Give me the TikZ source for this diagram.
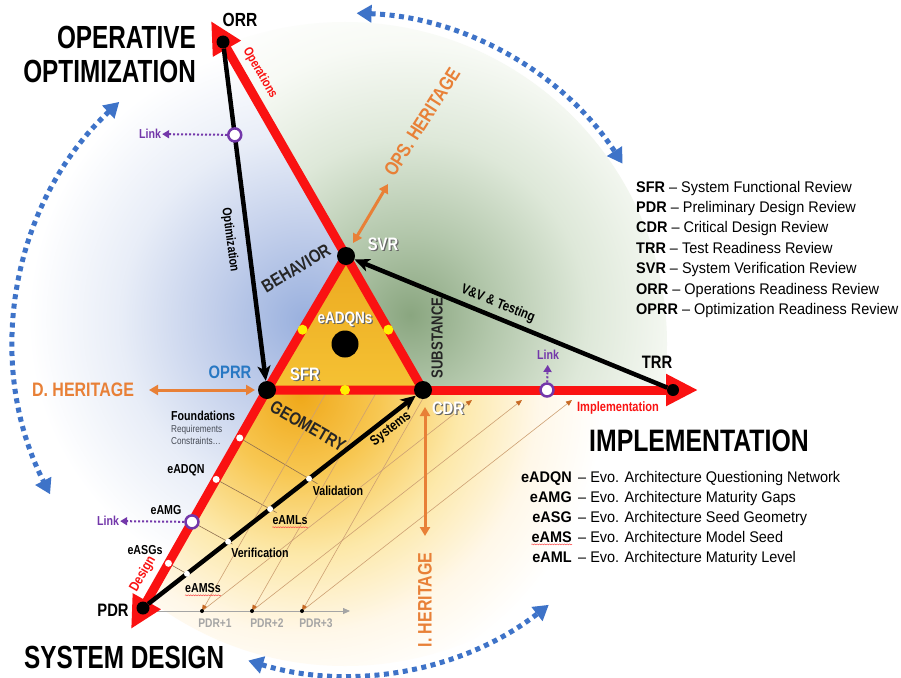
\documentclass[tikz,border=0pt]{standalone}
\usepackage{fontspec}
\setmainfont{Liberation Sans}
\newfontfamily\fT{Liberation Sans}[FakeStretch=0.76]
\newfontfamily\fI{Liberation Sans}[FakeStretch=0.80]
\newfontfamily\fA{Liberation Sans}[FakeStretch=0.82]
\newfontfamily\fL{Liberation Sans}[FakeStretch=0.94]
\usetikzlibrary{arrows.meta,calc,decorations.pathmorphing}
\newcommand\fs[1]{\fontsize{#1}{#1}\selectfont}
\newcommand\shd[1]{\rlap{\kern1.3pt\raisebox{-1.3pt}{\textcolor{black!60}{#1}}}#1}
\definecolor{rd}{RGB}{250,18,18}
\definecolor{arcb}{RGB}{62,115,200}
\definecolor{oprrc}{RGB}{40,120,195}
\definecolor{org}{RGB}{232,128,55}
\definecolor{pur}{RGB}{115,55,170}
\definecolor{tanl}{RGB}{205,160,115}
\definecolor{fanh}{RGB}{200,105,35}
\definecolor{pdrg}{RGB}{165,165,165}
\definecolor{yel}{RGB}{255,240,0}
\definecolor{triA}{RGB}{236,170,32}
\definecolor{triB}{RGB}{245,194,52}
\definecolor{reqc}{RGB}{70,75,85}
\pgfdeclareradialshading{bluesh}{\pgfpoint{0bp}{0bp}}{rgb(0bp)=(0.60,0.69,0.87); rgb(7bp)=(0.76,0.81,0.92); rgb(14bp)=(0.91,0.93,0.97); rgb(21bp)=(1,1,1); rgb(50bp)=(1,1,1)}
\pgfdeclareradialshading{greensh}{\pgfpoint{0bp}{0bp}}{rgb(0bp)=(0.54,0.65,0.50); rgb(6bp)=(0.70,0.78,0.67); rgb(13bp)=(0.87,0.91,0.85); rgb(20bp)=(0.97,0.98,0.96); rgb(25bp)=(1,1,1); rgb(50bp)=(1,1,1)}
\pgfdeclareradialshading{orangesh}{\pgfpoint{0bp}{0bp}}{rgb(0bp)=(0.94,0.66,0.10); rgb(6bp)=(0.97,0.78,0.32); rgb(12bp)=(0.99,0.91,0.66); rgb(18bp)=(1,0.97,0.91); rgb(23bp)=(1,1,1); rgb(50bp)=(1,1,1)}
\begin{document}
\begin{tikzpicture}[x=1pt,y=-1pt,
  redl/.style={draw=rd,line width=9pt},
  redtip/.style={-{Triangle[length=32pt,width=30pt]}},
  blk/.style={draw=black,line width=4.5pt,-{Stealth[length=15pt,width=13pt,inset=4pt]}},
  dot/.style={circle,fill=black,inner sep=0pt},
  wdot/.style={circle,fill=white,inner sep=0pt,minimum size=7pt},
  ydot/.style={circle,fill=yel,inner sep=0pt,minimum size=10pt},
  lnk/.style={circle,draw=pur,line width=2.5pt,fill=white,inner sep=0pt,minimum size=13pt},
  lnkarrow/.style={draw=pur,line width=2pt,dash pattern=on 2pt off 2pt,-{Triangle[length=7pt,width=8pt]}},
  herarrow/.style={draw=org,line width=3pt,{Triangle[length=9pt,width=10pt]}-{Triangle[length=9pt,width=10pt]}},
  arcarrow/.style={draw=arcb,line width=5pt,dash pattern=on 5pt off 4.5pt,{Triangle[length=15pt,width=17pt]}-{Triangle[length=15pt,width=17pt]}},
  fan/.style={draw=tanl,line width=0.6pt},
  fanarr/.style={fan,-{Triangle[length=6pt,width=5pt,color=fanh]}},
  lb/.style={inner sep=0pt,font=\fA\bfseries},
  title/.style={inner sep=0pt,font=\fT\bfseries\fs{32}},
  leg/.style={inner sep=0pt,font=\fL\fs{15.4}},
  squig/.style={draw=rd!75,line width=0.5pt,decorate,decoration={snake,amplitude=0.5pt,segment length=2.5pt}}
]
\useasboundingbox (0,0) rectangle (901,677);
\fill[white] (0,0) rectangle (901,677);

% key points
\coordinate (C) at (345,344);
\coordinate (pORR) at (223,42);
\coordinate (ORRt) at (211,21);
\coordinate (pSVR) at (346,256);
\coordinate (pOPRR) at (267,390);
\coordinate (pCDR) at (423,390);
\coordinate (pTRR) at (673,390);
\coordinate (TRRt) at (698,390);
\coordinate (pPDR) at (143,608);
\coordinate (PDRt) at (131,629);

% background shadings
\begin{scope}
  \clip (C) circle (322pt);
  \begin{scope}
    \clip (0,0) -- (200,0) -- (pSVR) -- (pOPRR) -- (pPDR) -- (104,677) -- (0,677) -- cycle;
    \shade[shading=bluesh] (305,320) circle (330pt);
  \end{scope}
  \begin{scope}
    \clip (200,0) -- (pSVR) -- (pCDR) -- (901,390) -- (901,0) -- cycle;
    \shade[shading=greensh] (410,315) circle (340pt);
  \end{scope}
  \begin{scope}
    \clip (pOPRR) -- (901,390) -- (901,677) -- (104,677) -- (pPDR) -- cycle;
    \shade[shading=orangesh] (300,395) circle (330pt);
  \end{scope}
\end{scope}

% dotted blue arcs
\draw[arcarrow] ($(C)+(88:331pt)$) arc[start angle=88,end angle=33,radius=331pt];
\draw[arcarrow] ($(C)+(133:331pt)$) arc[start angle=133,end angle=207,radius=331pt];
\draw[arcarrow] ($(C)+(253:331pt)$) arc[start angle=253,end angle=308,radius=331pt];

% grid points on the Design line and on the Systems line
\coordinate (r1) at ($(pOPRR)!0.22!(pPDR)$);
\coordinate (r2) at ($(pOPRR)!0.41!(pPDR)$);
\coordinate (r3) at ($(pOPRR)!0.605!(pPDR)$);
\coordinate (r4) at ($(pOPRR)!0.795!(pPDR)$);
\coordinate (b1) at ($(pPDR)!0.593!(pCDR)$);
\coordinate (b2) at ($(pPDR)!0.454!(pCDR)$);
\coordinate (b3) at ($(pPDR)!0.304!(pCDR)$);
\coordinate (b4) at ($(pPDR)!0.157!(pCDR)$);
\foreach \i in {1,2,3,4}{
  \draw[fan,draw=black!30!tanl] ($(r\i)!-0.05!(b\i)$) -- ($(r\i)!1.12!(b\i)$);
}

% fan of PDR+n lines
\coordinate (P1) at (202,611);
\coordinate (P2) at (252,611);
\coordinate (P3) at (302,611);
\coordinate (S1) at (326.6,392);
\coordinate (S2) at (376.6,392);
\coordinate (S3) at (426.6,392);
\coordinate (H1) at (472,400);
\coordinate (H2) at (522,400);
\coordinate (H3) at (572,400);
\foreach \i in {1,2,3}{
  \draw[fanarr] (S\i) -- (P\i);
  \draw[fanarr] (P\i) -- (H\i);
}
\coordinate (ax0) at (150,611);
\coordinate (ax1) at (350,611);
\draw[draw=pdrg,line width=0.8pt,-{Triangle[length=7pt,width=6pt]}] (ax0) -- (ax1);
\foreach \i in {1,2,3}{ \node[dot,minimum size=4pt] (pd\i) at (P\i) {}; }

% central triangle
\shade[top color=triA,bottom color=triB] (pSVR) -- (pOPRR) -- (pCDR) -- cycle;
\draw[redl,line join=round] (pSVR) -- (pOPRR) -- (pCDR) -- cycle;

% red main lines
\draw[redl,redtip] (pSVR) -- (ORRt);
\draw[redl,redtip] (pOPRR) -- (PDRt);
\draw[redl,redtip] (pCDR) -- (TRRt);

% dots
\node[dot,minimum size=13pt] (ORR) at (pORR) {};
\node[dot,minimum size=18pt] (SVR) at (pSVR) {};
\node[dot,minimum size=18pt] (OPRR) at (pOPRR) {};
\node[dot,minimum size=18pt] (CDR) at (pCDR) {};
\node[dot,minimum size=12pt] (TRR) at (pTRR) {};
\node[dot,minimum size=13pt] (PDR) at (pPDR) {};
\node[dot,minimum size=27pt] (big) at (345,344) {};
\node[ydot] (y1) at ($(pSVR)!0.55!(pOPRR)$) {};
\node[ydot] (y2) at ($(pSVR)!0.55!(pCDR)$) {};
\node[ydot] (y3) at ($(pOPRR)!0.5!(pCDR)$) {};

% black arrows
\draw[blk] (ORR) -- (OPRR);
\draw[blk] (TRR) -- (SVR);
\draw[blk] (PDR) -- (CDR);

% white dots
\node[wdot] (wd1) at (r1) {};
\node[wdot] (wd2) at (r2) {};
\node[wdot] (wd4) at (r4) {};
\foreach \i in {1,2,3,4}{ \node[wdot,minimum size=6pt] (bd\i) at (b\i) {}; }

% link circles and arrows
\node[lnk] (L1c) at ($(pORR)!0.267!(pOPRR)$) {};
\node[lnk] (L2c) at (547,390) {};
\node[lnk] (L3c) at (r3) {};
\node[lb,text=pur,font=\fA\bfseries\fs{13},inner sep=1pt] (L1) at (150,134) {Link};
\node[lb,text=pur,font=\fA\bfseries\fs{13}] (L2) at (548,355) {Link};
\node[lb,text=pur,font=\fA\bfseries\fs{13},inner sep=1pt] (L3) at (108,521) {Link};
\draw[lnkarrow] (L1c) -- (L1);
\draw[lnkarrow,shorten >=5pt] (L2c) -- (L2);
\draw[lnkarrow] (L3c) -- (L3);

% heritage arrows
\coordinate (dh0) at (149,390);
\coordinate (dh1) at (255,390);
\coordinate (oh0) at (353,243);
\coordinate (oh1) at (388,184);
\coordinate (ih0) at (425,407);
\coordinate (ih1) at (425,536);
\draw[herarrow] (dh0) -- (dh1);
\draw[herarrow] (oh0) -- (oh1);
\draw[herarrow] (ih0) -- (ih1);

% titles
\node[title,anchor=east] (tOP1) at (196,37) {OPERATIVE};
\node[title,anchor=east] (tOP2) at (196,71) {OPTIMIZATION};
\node[title,anchor=west] (tSD) at (24,657) {SYSTEM DESIGN};
\node[inner sep=0pt,font=\fI\bfseries\fs{31},anchor=west] (tIM) at (589,441) {IMPLEMENTATION};

% milestone labels
\node[lb,font=\fA\bfseries\fs{19}] (lORR) at (240,20) {ORR};
\node[lb,font=\fA\bfseries\fs{18},text=white] (lSVR) at (383,245) {\shd{SVR}};
\node[lb,font=\fA\bfseries\fs{18}] (lTRR) at (657,362) {TRR};
\node[lb,font=\fA\bfseries\fs{18},text=oprrc] (lOPRR) at (230,372) {OPRR};
\node[lb,font=\fA\bfseries\fs{18},text=white] (lSFR) at (305,375) {\shd{SFR}};
\node[lb,font=\fA\bfseries\fs{18},text=white] (lCDR) at (448,409) {\shd{CDR}};
\node[lb,font=\fA\bfseries\fs{18}] (lPDR) at (113,610) {PDR};
\node[lb,font=\fA\bfseries\fs{16.5},text=white] (lEQ) at (345,320) {\shd{eADQNs}};

% facet labels
\node[lb,font=\fA\bfseries\fs{18},text=black!85,rotate=31] (lBEH) at (296,268) {BEHAVIOR};
\node[lb,font=\fA\bfseries\fs{18},text=black!85,rotate=-30] (lGEO) at (308,426) {GEOMETRY};
\node[lb,font=\fA\bfseries\fs{16},text=black!85,rotate=90] (lSUB) at (437,338) {SUBSTANCE};

% line labels
\node[lb,font=\fA\bfseries\fs{13},text=rd,rotate=-60] (lOps) at (260,73) {Operations};
\node[lb,font=\fA\bfseries\fs{13},rotate=-82.4] (lOpt) at (230,240) {Optimization};
\node[lb,font=\fA\bfseries\fs{14},rotate=-21.8] (lVV) at (498,304) {V\&V \& Testing};
\node[lb,font=\fA\bfseries\fs{14},rotate=38.4] (lSys) at (391,429) {Systems};
\node[lb,font=\fA\bfseries\fs{13.5},text=rd] (lImp) at (618,408) {Implementation};
\node[lb,font=\fA\bfseries\fs{14},text=rd,rotate=60] (lDes) at (143,574) {Design};

% heritage labels
\node[lb,font=\fA\bfseries\fs{19.5},text=org] (lDH) at (83,390) {D. HERITAGE};
\node[lb,font=\fA\bfseries\fs{19.5},text=org,rotate=57.5] (lOH) at (422,122) {OPS. HERITAGE};
\node[lb,font=\fA\bfseries\fs{19.5},text=org,rotate=90] (lIH) at (425,600) {I. HERITAGE};

% design-line labels
\node[lb,font=\fA\bfseries\fs{13},anchor=west] (lFo) at (171,416) {Foundations};
\node[inner sep=0pt,font=\fA\fs{10},text=reqc,anchor=west] (lRq) at (171,430) {Requirements};
\node[inner sep=0pt,font=\fA\fs{10},text=reqc,anchor=west] (lCo) at (171,441) {Constraints…};
\node[lb,font=\fA\bfseries\fs{13}] (lQN) at (186,470) {eADQN};
\node[lb,font=\fA\bfseries\fs{13}] (lMG) at (166,510) {eAMG};
\node[lb,font=\fA\bfseries\fs{13}] (lSG) at (145,550) {eASGs};
\node[lb,font=\fA\bfseries\fs{13}] (lVa) at (338,491) {Validation};
\node[lb,font=\fA\bfseries\fs{13}] (lML) at (290,520) {eAMLs};
\node[lb,font=\fA\bfseries\fs{13}] (lVe) at (260,553) {Verification};
\node[lb,font=\fA\bfseries\fs{13}] (lMS) at (203,588) {eAMSs};
\draw[squig] ($(lML.south west)+(0,2.5)$) -- ($(lML.south east)+(0,2.5)$);
\draw[squig] ($(lMS.south west)+(0,2.5)$) -- ($(lMS.south east)+(0,2.5)$);

% PDR+n labels
\node[lb,font=\fA\bfseries\fs{12.5},text=pdrg] (lP1) at (215,623) {PDR+1};
\node[lb,font=\fA\bfseries\fs{12.5},text=pdrg] (lP2) at (267,623) {PDR+2};
\node[lb,font=\fA\bfseries\fs{12.5},text=pdrg] (lP3) at (316,623) {PDR+3};

% top legend
\node[leg,anchor=base west] (g1) at (636,192) {\textbf{SFR} – System Functional Review};
\node[leg,anchor=base west] (g2) at (636,212.4) {\textbf{PDR} – Preliminary Design Review};
\node[leg,anchor=base west] (g3) at (636,232.8) {\textbf{CDR} – Critical Design Review};
\node[leg,anchor=base west] (g4) at (636,253.2) {\textbf{TRR} – Test Readiness Review};
\node[leg,anchor=base west] (g5) at (636,273.6) {\textbf{SVR} – System Verification Review};
\node[leg,anchor=base west] (g6) at (636,294) {\textbf{ORR} – Operations Readiness Review};
\node[leg,anchor=base west] (g7) at (636,314.4) {\textbf{OPRR} – Optimization Readiness Review};

% bottom legend
\node[leg,anchor=base east,font=\fL\bfseries\fs{15.4}] (k1) at (572,482) {eADQN};
\node[leg,anchor=base west] (d1) at (578,482) {– Evo. Architecture Questioning Network};
\node[leg,anchor=base east,font=\fL\bfseries\fs{15.4}] (k2) at (572,502) {eAMG};
\node[leg,anchor=base west] (d2) at (578,502) {– Evo. Architecture Maturity Gaps};
\node[leg,anchor=base east,font=\fL\bfseries\fs{15.4}] (k3) at (572,522) {eASG};
\node[leg,anchor=base west] (d3) at (578,522) {– Evo. Architecture Seed Geometry};
\node[leg,anchor=base east,font=\fL\bfseries\fs{15.4}] (k4) at (572,542) {eAMS};
\node[leg,anchor=base west] (d4) at (578,542) {– Evo. Architecture Model Seed};
\node[leg,anchor=base east,font=\fL\bfseries\fs{15.4}] (k5) at (572,562) {eAML};
\node[leg,anchor=base west] (d5) at (578,562) {– Evo. Architecture Maturity Level};
\draw[squig] ($(k4.south west)+(0,2)$) -- ($(k4.south east)+(0,2)$);
\end{tikzpicture}
\end{document}
